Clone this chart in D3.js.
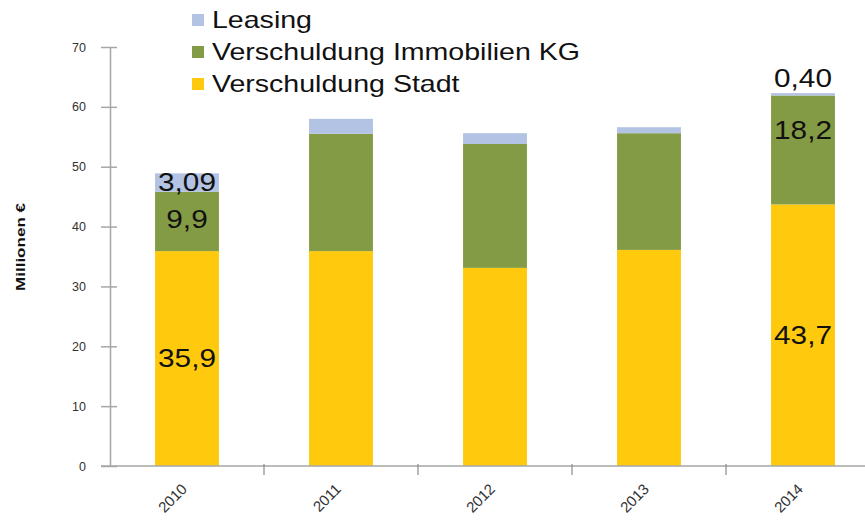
<!DOCTYPE html>
<html>
<head>
<meta charset="utf-8">
<script src="https://cdnjs.cloudflare.com/ajax/libs/d3/7.8.5/d3.min.js"></script>
<style>
  body { margin: 0; background: #fff; }
  svg { display: block; font-family: "Liberation Sans", Arial, sans-serif; }
</style>
</head>
<body>
<div id="chart"></div>
<script>
// chart values
const years = ['2010', '2011', '2012', '2013', '2014'];
const stadt = [35.9, 35.9, 33.1, 36.1, 43.7];
const kg = [9.9, 19.6, 20.7, 19.5, 18.2];
const leasing = [3.09, 2.5, 1.8, 1.0, 0.40];
const yTicks = [0, 10, 20, 30, 40, 50, 60, 70];

// labels shown on the bars (null = no label)
const stadtLabels = ['35,9', null, null, null, '43,7'];
const kgLabels = ['9,9', null, null, null, '18,2'];
const leasingLabels = ['3,09', null, null, null, '0,40'];

const seriesNames = ['Leasing', 'Verschuldung Immobilien KG', 'Verschuldung Stadt'];
const colors = {
  stadt: '#ffc90e',
  kg: '#849b46',
  leasing: '#b3c3e3'
};

const width = 865;
const height = 520;
const margin = { left: 110, top: 47, bottom: 54 };
// the source picture is stretched sideways a bit
const stretch = 1.19;

const svg = d3.select('#chart')
  .append('svg')
  .attr('width', width)
  .attr('height', height);

const x = d3.scaleBand()
  .domain(years)
  .range([margin.left, margin.left + 154 * 5])
  .paddingInner(0.585)
  .paddingOuter(0.2925);

const y = d3.scaleLinear()
  .domain([0, 70])
  .range([height - margin.bottom, margin.top]);

// stack the three series
const rows = years.map((yr, i) => ({ year: yr, stadt: stadt[i], kg: kg[i], leasing: leasing[i] }));
const stack = d3.stack().keys(['stadt', 'kg', 'leasing']);
const layers = stack(rows);

svg.selectAll('.layer')
  .data(layers)
  .enter()
  .append('g')
  .attr('class', 'layer')
  .attr('fill', (d) => colors[d.key])
  .selectAll('rect')
  .data((d) => d)
  .enter()
  .append('rect')
  .attr('x', (d) => x(d.data.year))
  .attr('width', x.bandwidth())
  .attr('y', (d) => y(d[1]))
  .attr('height', (d) => y(d[0]) - y(d[1]));

// axes
const yAxis = svg.append('g')
  .attr('transform', `translate(${margin.left}, 0)`)
  .call(d3.axisLeft(y).tickValues(yTicks).tickSize(0).tickPadding(24));
yAxis.select('.domain').attr('stroke', '#a6a6a6').attr('stroke-width', 1.5);
yAxis.selectAll('.tick text')
  .attr('font-size', 12.5)
  .attr('fill', '#333');
yAxis.selectAll('.tick')
  .append('line')
  .attr('x1', -9)
  .attr('x2', 7)
  .attr('stroke', '#a6a6a6')
  .attr('stroke-width', 1.5);

const xAxisY = y(0);
const xAxis = svg.append('g')
  .attr('transform', `translate(0, ${xAxisY})`);
xAxis.append('line')
  .attr('x1', margin.left - 9)
  .attr('x2', width)
  .attr('stroke', '#a6a6a6')
  .attr('stroke-width', 1.5);
// ticks between categories
xAxis.selectAll('.sep')
  .data(years.slice(1))
  .enter()
  .append('line')
  .attr('x1', (d) => x(d) - x.step() * x.paddingInner() / 2)
  .attr('x2', (d) => x(d) - x.step() * x.paddingInner() / 2)
  .attr('y1', -2)
  .attr('y2', 9)
  .attr('stroke', '#8a8a8a')
  .attr('stroke-width', 1.2);
xAxis.selectAll('.lab')
  .data(years)
  .enter()
  .append('text')
  .attr('transform', (d) => `translate(${x(d) + x.bandwidth() / 2 + 1}, 24) rotate(-45)`)
  .attr('text-anchor', 'end')
  .attr('font-size', 15)
  .attr('fill', '#333')
  .text((d) => d);

// y axis title
svg.append('text')
  .attr('transform', 'translate(25, 247) rotate(-90)')
  .attr('text-anchor', 'middle')
  .attr('font-size', 12)
  .attr('font-weight', 'bold')
  .attr('fill', '#111')
  .attr('textLength', 88)
  .attr('lengthAdjust', 'spacingAndGlyphs')
  .text('Millionen €');

// value labels
const labelSize = 25;
function addLabels(labels, posFn) {
  svg.append('g')
    .selectAll('text')
    .data(years.filter((d, i) => labels[i] !== null))
    .enter()
    .append('text')
    .attr('transform', (d) => `translate(${x(d) + x.bandwidth() / 2}, ${posFn(years.indexOf(d))}) scale(${stretch}, 1)`)
    .attr('text-anchor', 'middle')
    .attr('dominant-baseline', 'central')
    .attr('font-size', labelSize)
    .attr('fill', '#111')
    .text((d) => labels[years.indexOf(d)]);
}
addLabels(stadtLabels, (i) => y(stadt[i] / 2));
addLabels(kgLabels, (i) => y(stadt[i] + kg[i] / 2) - (i === 4 ? 20 : 2));
addLabels(leasingLabels, (i) => i === 4
  ? y(stadt[i] + kg[i] + leasing[i]) - 15
  : y(stadt[i] + kg[i] + leasing[i] / 2));

// legend
const legendColors = [colors.leasing, colors.kg, colors.stadt];
const legend = svg.append('g')
  .attr('transform', 'translate(192, 0)');
const items = legend.selectAll('g')
  .data(seriesNames)
  .enter()
  .append('g')
  .attr('transform', (d, i) => `translate(0, ${20 + i * 32})`);
items.append('rect')
  .attr('x', 0)
  .attr('y', -6)
  .attr('width', 12)
  .attr('height', 12)
  .attr('fill', (d, i) => legendColors[i]);
items.append('text')
  .attr('transform', `translate(20, 0) scale(${stretch}, 1)`)
  .attr('dominant-baseline', 'central')
  .attr('font-size', 24)
  .attr('fill', '#111')
  .text((d) => d);
</script>
</body>
</html>
